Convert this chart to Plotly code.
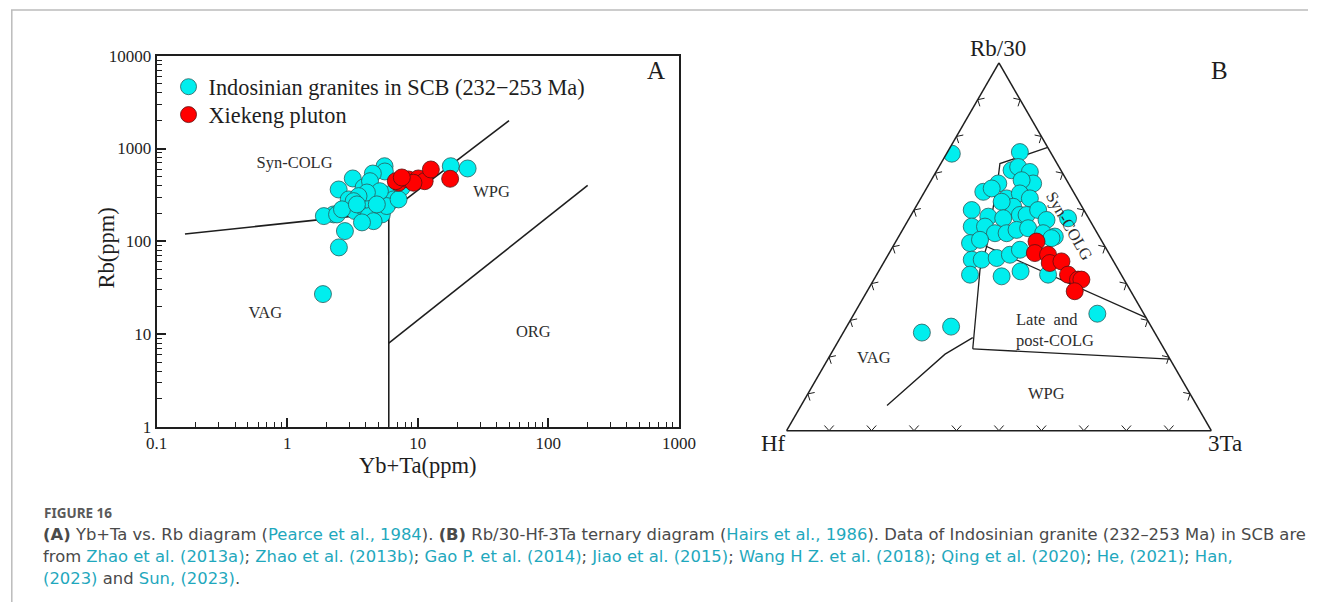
import numpy as np
import plotly.graph_objects as go

# The viewer shows the figure inside an 8px page margin and slightly reduced;
# the figure is therefore requested a little larger and every reference pixel
# position is mapped into the effective drawing box (FW x FH at offset OFF).
W, H = 1317, 612
OFF = 8
FW, FH = W - 2 * OFF, H - 2 * OFF
REQ_W, REQ_H = FW + 24, FH + 16

# ---------------- Panel A data (Yb+Ta vs Rb) ----------------
cyan_a_x = [17.9, 24.1, 5.57, 5.6, 4.53, 3.18, 2.48, 3.85, 4.31, 2.96, 2.27, 1.91,
            2.41, 2.77, 2.49, 3.30, 3.74, 4.46, 5.31, 4.21, 5.97, 6.53, 5.79, 5.13,
            4.08, 3.52, 3.23, 4.59, 3.74, 2.63, 7.55, 7.13, 1.88, 4.86, 3.42]
cyan_a_y = [645, 610, 645, 566, 538, 476, 362, 381, 445, 283, 195, 187,
            195, 129, 86, 212, 240, 263, 195, 187, 320, 283, 240, 347,
            336, 307, 271, 165, 160, 221, 381, 283, 27, 250, 250]
red_a_x = [7.13, 6.79, 8.49, 10.1, 11.3, 12.6, 17.7, 9.27, 7.55]
red_a_y = [428, 445, 464, 476, 445, 595, 472, 428, 488]

x_tickvals = [0.1, 1, 10, 100, 1000]
x_ticktext = ["0.1", "1", "10", "100", "1000"]
y_tickvals = [1, 10, 100, 1000, 10000]
y_ticktext = ["1", "10", "100", "1000", "10000"]

# field boundaries (Pearce et al., 1984)
vag_syn_x, vag_syn_y = [0.165, 6], [120, 205]
syn_wpg_x, syn_wpg_y = [6, 50], [205, 2000]
vag_org_x, vag_org_y = [6, 6], [1, 205]
wpg_org_x, wpg_org_y = [6, 200], [8, 400]

field_a_labels = ["Syn-COLG", "WPG", "VAG", "ORG"]
field_a_x = [1.14, 36.7, 0.68, 76.7]
field_a_y = [690, 334, 16.4, 10.2]

# ---------------- Panel B data (Rb/30 - Hf - 3Ta) ----------------
cyan_b_a = [0.7532, 0.7576, 0.7081, 0.7170, 0.7035, 0.6722, 0.6722, 0.6495, 0.6316, 0.6586,
            0.6811, 0.6451, 0.6316, 0.6089, 0.6224, 0.6000, 0.5819, 0.5776, 0.5865, 0.5865,
            0.6000, 0.5730, 0.5549, 0.5549, 0.5370, 0.5370, 0.5459, 0.5505, 0.5370, 0.5278,
            0.5100, 0.5189, 0.4649, 0.4649, 0.4695, 0.4784, 0.4919, 0.4243, 0.4197, 0.4332,
            0.4243, 0.5776, 0.3181, 0.2668, 0.2830, 0.5235]
cyan_b_b = [0.2344, 0.0719, 0.1162, 0.0962, 0.0755, 0.0834, 0.1655, 0.2121, 0.1661, 0.1878,
            0.1061, 0.1282, 0.1114, 0.1620, 0.1825, 0.2641, 0.2341, 0.2011, 0.1574, 0.1417,
            0.1077, 0.1015, 0.2866, 0.2554, 0.2409, 0.2134, 0.1856, 0.1560, 0.1275, 0.1046,
            0.3131, 0.2852, 0.3316, 0.3081, 0.2706, 0.2350, 0.2047, 0.3560, 0.2839, 0.2325,
            0.1722, 0.0485, 0.1093, 0.5481, 0.4712, 0.1146]
cyan_b_c = [0.0124, 0.1705, 0.1757, 0.1868, 0.2210, 0.2444, 0.1623, 0.1384, 0.2023, 0.1536,
            0.2128, 0.2267, 0.2570, 0.2291, 0.1951, 0.1359, 0.1840, 0.2213, 0.2561, 0.2718,
            0.2923, 0.3255, 0.1585, 0.1897, 0.2221, 0.2496, 0.2685, 0.2935, 0.3355, 0.3676,
            0.1769, 0.1959, 0.2035, 0.2270, 0.2599, 0.2866, 0.3034, 0.2197, 0.2964, 0.3343,
            0.4035, 0.3739, 0.5726, 0.1851, 0.2458, 0.3619]
red_b_a = [0.5143, 0.4830, 0.4784, 0.4559, 0.4603, 0.4243, 0.4108, 0.4108, 0.3792]
red_b_b = [0.1544, 0.1740, 0.1451, 0.1524, 0.1227, 0.1252, 0.1084, 0.1005, 0.1320]
red_b_c = [0.3313, 0.3430, 0.3765, 0.3917, 0.4170, 0.4505, 0.4808, 0.4887, 0.4888]

# field boundaries (Harris et al., 1986)
vag_wpg_a = [0.0684, 0.2081, 0.2532]
vag_wpg_b = [0.7294, 0.5228, 0.4351]
vag_wpg_c = [0.2022, 0.2691, 0.3117]
late_wpg_a = [0.2224, 0.1946]
late_wpg_b = [0.4505, 0.0]
late_wpg_c = [0.3271, 0.8054]
left_a = [0.2224, 0.4378, 0.5008, 0.6900, 0.7262, 0.7700]
left_b = [0.4505, 0.3257, 0.2785, 0.1566, 0.1346, 0.0]
left_c = [0.3271, 0.2365, 0.2207, 0.1534, 0.1392, 0.2300]
syn_late_a = [0.5008, 0.3073]
syn_late_b = [0.2785, 0.0]
syn_late_c = [0.2207, 0.6927]

tern_tick_steps = [0.1, 0.2, 0.3, 0.4, 0.5, 0.6, 0.7, 0.8, 0.9]

CYAN = "#00EEEE"
RED = "#FF0000"
SERIF = "Liberation Serif"
INK = "#1e1e1e"
LABEL = "#2e2e2e"


def pxp(xp):
    return (xp - OFF) / FW


def pyp(yp):
    return 1 - (yp - OFF) / FH


fig = go.Figure()

line_style = dict(color=INK, width=1.6)
for lx, ly in [(vag_syn_x, vag_syn_y), (syn_wpg_x, syn_wpg_y),
               (vag_org_x, vag_org_y), (wpg_org_x, wpg_org_y)]:
    fig.add_trace(go.Scatter(x=lx, y=ly, mode="lines", line=line_style,
                             showlegend=False, hoverinfo="skip", xaxis="x", yaxis="y"))

fig.add_trace(go.Scatter(x=field_a_x, y=field_a_y, mode="text", text=field_a_labels,
                         textfont=dict(family=SERIF, size=16.5, color=LABEL),
                         showlegend=False, hoverinfo="skip"))

fig.add_trace(go.Scatter(x=cyan_a_x, y=cyan_a_y, mode="markers",
                         name="Indosinian granites in SCB (232\u2212253 Ma)", legend="legend",
                         marker=dict(size=17, color=CYAN, line=dict(color="#2a5c5c", width=0.8))))
fig.add_trace(go.Scatter(x=red_a_x, y=red_a_y, mode="markers", name="Xiekeng pluton",
                         legend="legend2",
                         marker=dict(size=17, color=RED, line=dict(color="#5a1010", width=0.8))))

# ternary chevron tick marks (tip on the edge, arms pointing inward)
SQ = np.sqrt(3) / 2
edges = [((0.0, 0.0), (1.0, 0.0), (0.0, 1.0)),          # Hf -> 3Ta (bottom)
         ((1.0, 0.0), (0.5, SQ), (-SQ, -0.5)),          # 3Ta -> Rb/30 (right)
         ((0.5, SQ), (0.0, 0.0), (SQ, -0.5))]           # Rb/30 -> Hf (left)
arm = 7.0 / 426.0
ang = np.radians(42)
ch_a, ch_b, ch_c = [], [], []


def _to_tern(X, Y):
    a = Y / SQ
    c = X - a / 2
    return a, 1 - a - c, c


for (s, e, n) in edges:
    for t in tern_tick_steps:
        tx, ty = s[0] + t * (e[0] - s[0]), s[1] + t * (e[1] - s[1])
        pts = []
        for sgn in (1, -1):
            ca, sa = np.cos(sgn * ang), np.sin(sgn * ang)
            dx = (n[0] * ca - n[1] * sa) * arm
            dy = (n[0] * sa + n[1] * ca) * arm
            pts.append((tx + dx, ty + dy))
        for (X, Y) in [pts[0], (tx, ty), pts[1]]:
            a, b, c = _to_tern(X, Y)
            ch_a.append(a); ch_b.append(b); ch_c.append(c)
        ch_a.append(None); ch_b.append(None); ch_c.append(None)
fig.add_trace(go.Scatterternary(a=ch_a, b=ch_b, c=ch_c, mode="lines",
                                line=dict(color=INK, width=1), connectgaps=False,
                                showlegend=False, hoverinfo="skip", subplot="ternary"))

tern_line = dict(color=INK, width=1.3)
for ta, tb, tc in [(vag_wpg_a, vag_wpg_b, vag_wpg_c), (late_wpg_a, late_wpg_b, late_wpg_c),
                   (left_a, left_b, left_c), (syn_late_a, syn_late_b, syn_late_c)]:
    fig.add_trace(go.Scatterternary(a=ta, b=tb, c=tc, mode="lines", line=tern_line,
                                    showlegend=False, hoverinfo="skip", subplot="ternary"))
fig.add_trace(go.Scatterternary(a=cyan_b_a, b=cyan_b_b, c=cyan_b_c, mode="markers",
                                marker=dict(size=17, color=CYAN, line=dict(color="#2a5c5c", width=0.8)),
                                showlegend=False, subplot="ternary"))
fig.add_trace(go.Scatterternary(a=red_b_a, b=red_b_b, c=red_b_c, mode="markers",
                                marker=dict(size=17, color=RED, line=dict(color="#5a1010", width=0.8)),
                                showlegend=False, subplot="ternary"))

tick_font = dict(family=SERIF, size=17, color=INK)


def log_minor(lo, hi):
    return [m * 10.0 ** k for k in range(lo, hi) for m in range(2, 10)]


axis_common = dict(type="log", showline=True, linecolor=INK, linewidth=2, mirror=True,
                   ticks="inside", ticklen=9, tickwidth=1.5, tickcolor=INK, showgrid=False,
                   zeroline=False, tickfont=tick_font, tickmode="array")

tern_axis = dict(showgrid=False, showticklabels=False, ticks="",
                 linecolor=INK, linewidth=1.5, title=dict(text=""))

legend_common = dict(xanchor="left", yanchor="top", font=dict(family=SERIF, size=22.3, color=INK),
                     bgcolor="rgba(0,0,0,0)", itemsizing="trace")

fig.update_layout(
    width=REQ_W, height=REQ_H, autosize=False,
    margin=dict(l=0, r=0, t=0, b=0),
    paper_bgcolor="white", plot_bgcolor="white",
    xaxis=dict(domain=[pxp(154), pxp(678)], range=[-1, 3],
               tickvals=x_tickvals, ticktext=x_ticktext,
               minor=dict(ticks="inside", ticklen=5, tickwidth=1.2, tickcolor=INK,
                          tickmode="array", tickvals=log_minor(-1, 3), showgrid=False),
               title=dict(text="Yb+Ta(ppm)", font=dict(family=SERIF, size=22.5, color=INK), standoff=4),
               **axis_common),
    yaxis=dict(domain=[pyp(428), pyp(55)], range=[0, 4],
               tickvals=y_tickvals, ticktext=y_ticktext,
               minor=dict(ticks="inside", ticklen=5, tickwidth=1.2, tickcolor=INK,
                          tickmode="array", tickvals=log_minor(0, 4), showgrid=False),
               **axis_common),
    ternary=dict(domain=dict(x=[pxp(786), pxp(1212)], y=[pyp(432), pyp(62)]),
                 bgcolor="white", sum=1,
                 aaxis=tern_axis, baxis=tern_axis, caxis=tern_axis),
    legend=dict(x=pxp(166), y=pyp(65), **legend_common),
    legend2=dict(x=pxp(166), y=pyp(93), **legend_common),
    showlegend=True,
)

annos = []


def add_text(xp, yp, text, size, family=SERIF, color=INK, angle=0, xanchor="center",
             yanchor="middle", align="center"):
    annos.append(dict(x=pxp(xp), y=pyp(yp), xref="paper", yref="paper", text=text, showarrow=False,
                      font=dict(family=family, size=size, color=color), textangle=angle,
                      xanchor=xanchor, yanchor=yanchor, align=align))


add_text(104, 248, "Rb(ppm)", 22.5, angle=-90)
add_text(655, 70, "A", 25)
add_text(1220, 70, "B", 25)
add_text(998, 48, "Rb/30", 23)
add_text(773, 445, "Hf", 23)
add_text(1226, 445, "3Ta", 23)
add_text(874, 358, "VAG", 16.5, color=LABEL)
add_text(1047, 394, "WPG", 16.5, color=LABEL)
add_text(1014, 331, "Late  and<br>post-COLG", 16.5, color=LABEL, xanchor="left", align="left")
add_text(1069, 226, "Syn-COLG", 16.5, color=LABEL, angle=60)

# caption
LINK = "#1fa8bd"
TXT = "#4a4a4a"


def L(s):
    return f"<span style='color:{LINK}'>{s}</span>"


CAP = "DejaVu Sans"
add_text(39, 515, "<b>FIGURE 16</b>", 13.5, family="Noto Sans", color="#5a5a5a", xanchor="left")
line1 = ("<b>(A)</b> Yb+Ta vs. Rb diagram (" + L("Pearce et al., 1984") + "). <b>(B)</b> Rb/30-Hf-3Ta ternary diagram ("
         + L("Hairs et al., 1986") + "). Data of Indosinian granite (232\u2013253 Ma) in SCB are")
line2 = ("from " + L("Zhao et al. (2013a)") + "; " + L("Zhao et al. (2013b)") + "; " + L("Gao P. et al. (2014)")
         + "; " + L("Jiao et al. (2015)") + "; " + L("Wang H Z. et al. (2018)") + "; " + L("Qing et al. (2020)")
         + "; " + L("He, (2021)") + "; " + L("Han,"))
line3 = L("(2023)") + " and " + L("Sun, (2023)") + "."
add_text(38, 536, line1, 16.4, family=CAP, color=TXT, xanchor="left")
add_text(38, 558, line2, 16.4, family=CAP, color=TXT, xanchor="left")
add_text(38, 580, line3, 16.4, family=CAP, color=TXT, xanchor="left")

fig.update_layout(annotations=annos)

# page frame
fig.update_layout(shapes=[
    dict(type="line", xref="paper", yref="paper", x0=0, x1=1, y0=pyp(9), y1=pyp(9),
         line=dict(color="#bbbbbb", width=1.5)),
    dict(type="line", xref="paper", yref="paper", x0=pxp(8.8), x1=pxp(8.8), y0=0, y1=pyp(9),
         line=dict(color="#bbbbbb", width=1.5)),
])

fig.write_html("out.html")
